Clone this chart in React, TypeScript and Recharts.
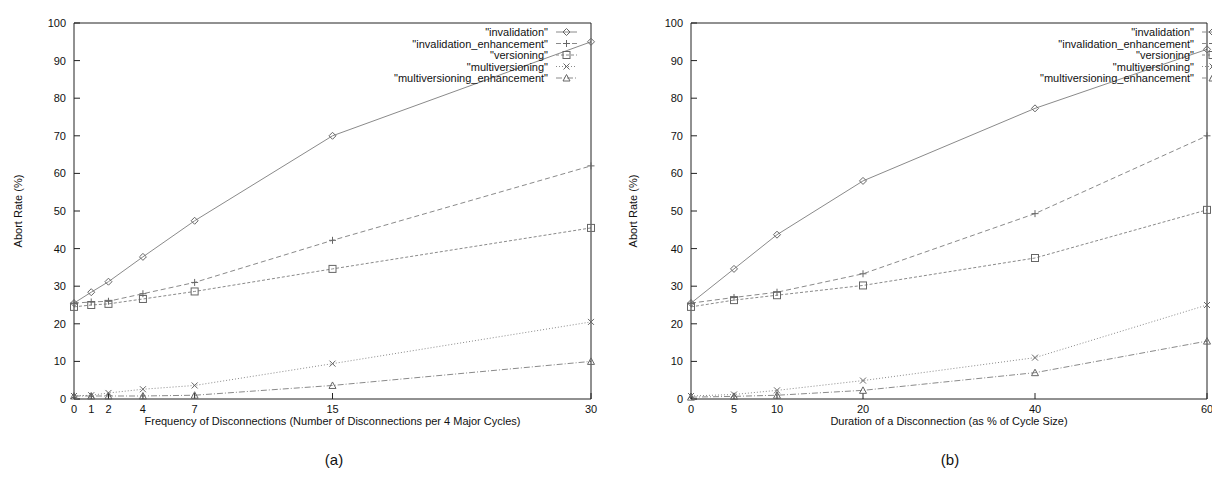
import React from "react";
import { LineChart, Line, XAxis, YAxis } from "recharts";

const SERIES_NAMES = [
  "\"invalidation\"",
  "\"invalidation_enhancement\"",
  "\"versioning\"",
  "\"multiversioning\"",
  "\"multiversioning_enhancement\"",
];

// (a) frequency of disconnections
const FREQ = [0, 1, 2, 4, 7, 15, 30];
const FREQ_INVALIDATION = [25.5, 28.4, 31.2, 37.8, 47.4, 70, 95];
const FREQ_INVALIDATION_ENH = [25.5, 25.8, 26, 28, 31, 42.2, 62];
const FREQ_VERSIONING = [24.5, 25, 25.3, 26.6, 28.6, 34.6, 45.5];
const FREQ_MULTIVERSIONING = [0.8, 1, 1.6, 2.6, 3.6, 9.4, 20.5];
const FREQ_MULTIVERSIONING_ENH = [0.8, 0.8, 0.8, 0.8, 1, 3.6, 10];

// (b) duration of a disconnection
const DUR = [0, 5, 10, 20, 40, 60];
const DUR_INVALIDATION = [25.5, 34.6, 43.7, 58, 77.3, 93];
const DUR_INVALIDATION_ENH = [25.5, 27, 28.4, 33.3, 49.3, 70];
const DUR_VERSIONING = [24.5, 26.3, 27.6, 30.2, 37.5, 50.3];
const DUR_MULTIVERSIONING = [0.8, 1.2, 2.3, 4.9, 11, 25];
const DUR_MULTIVERSIONING_ENH = [0.5, 0.7, 1, 2.3, 7, 15.4];

const Y_TICKS = [0, 10, 20, 30, 40, 50, 60, 70, 80, 90, 100];

const KEYS = ["inv", "invEnh", "vers", "multi", "multiEnh"];
const SHAPES = ["diamond", "plus", "square", "cross", "triangle"];
const DASHES = ["", "5 3", "3 2", "1 2", "6 2 1 2"];
const LINE_COLOR = "#8a8a8a";
const MARK_COLOR = "#666";
const FONT = "'Liberation Sans', Arial, Helvetica, sans-serif";

function Marker({ cx, cy, shape }: { cx: number; cy: number; shape: string }) {
  if (cx == null || cy == null) return null;
  const s = 3.5;
  const common = { fill: "none", stroke: MARK_COLOR, strokeWidth: 1 };
  switch (shape) {
    case "diamond":
      return <path d={`M${cx},${cy - s}L${cx + s},${cy}L${cx},${cy + s}L${cx - s},${cy}Z`} {...common} />;
    case "plus":
      return <path d={`M${cx - s},${cy}H${cx + s}M${cx},${cy - s}V${cy + s}`} {...common} />;
    case "square":
      return <rect x={cx - s} y={cy - s} width={s * 2} height={s * 2} {...common} />;
    case "cross":
      return <path d={`M${cx - 3},${cy - 3}L${cx + 3},${cy + 3}M${cx - 3},${cy + 3}L${cx + 3},${cy - 3}`} {...common} />;
    default:
      return <path d={`M${cx},${cy - s}L${cx + s},${cy + 3}L${cx - s},${cy + 3}Z`} {...common} />;
  }
}

const makeDot = (shape: string) => (p: any) => (
  <Marker key={`${shape}-${p.index}`} cx={p.cx} cy={p.cy} shape={shape} />
);

function buildRows(xs: number[], cols: number[][]) {
  return xs.map((x, i) => {
    const row: Record<string, number> = { x };
    KEYS.forEach((k, j) => (row[k] = cols[j][i]));
    return row;
  });
}

function LegendBox({ textRight, top }: { textRight: number; top: number }) {
  return (
    <svg
      width={620}
      height={120}
      style={{ position: "absolute", left: 0, top: 0, pointerEvents: "none", overflow: "visible" }}
    >
      {SERIES_NAMES.map((name, i) => {
        const y = top + i * 11.5;
        const x1 = textRight + 8;
        const x2 = x1 + 21;
        return (
          <g key={name}>
            <text
              x={textRight}
              y={y}
              textAnchor="end"
              dominantBaseline="central"
              fontSize={11}
              fontFamily={FONT}
              fill="#111"
            >
              {name}
            </text>
            <line x1={x1} x2={x2} y1={y} y2={y} stroke={LINE_COLOR} strokeDasharray={DASHES[i]} />
            <Marker cx={(x1 + x2) / 2} cy={y} shape={SHAPES[i]} />
          </g>
        );
      })}
    </svg>
  );
}

const tickStyle = { fontSize: 11, fill: "#111", fontFamily: FONT };

function Panel({
  width,
  xs,
  cols,
  xLabel,
  caption,
  captionX,
  yAxisWidth,
  marginRight,
  labelOffset,
  legendRight,
}: {
  width: number;
  xs: number[];
  cols: number[][];
  xLabel: string;
  caption: string;
  captionX: number;
  yAxisWidth: number;
  marginRight: number;
  labelOffset: number;
  legendRight: number;
}) {
  const data = buildRows(xs, cols);
  const xMax = xs[xs.length - 1];
  return (
    <div style={{ position: "relative", width, height: 468, flex: "none" }}>
      <LineChart
        width={width}
        height={431}
        data={data}
        margin={{ top: 0, right: marginRight, left: 0, bottom: 0 }}
      >
        <XAxis
          dataKey="x"
          type="number"
          domain={[0, xMax]}
          ticks={xs}
          interval={0}
          height={40}
          stroke="#222"
          tickSize={-6}
          tickMargin={12}
          tick={tickStyle}
          label={{ value: xLabel, position: "insideTop", offset: 18, style: { ...tickStyle } }}
        />
        <XAxis
          xAxisId="top"
          orientation="top"
          type="number"
          domain={[0, xMax]}
          ticks={xs}
          interval={0}
          height={15}
          stroke="#222"
          tickSize={-6}
          tick={false}
        />
        <YAxis
          type="number"
          domain={[0, 100]}
          ticks={Y_TICKS}
          interval={0}
          width={yAxisWidth}
          stroke="#222"
          tickSize={-6}
          tickMargin={14}
          tick={tickStyle}
          label={{
            value: "Abort Rate (%)",
            angle: -90,
            position: "insideLeft",
            offset: labelOffset,
            style: { ...tickStyle, textAnchor: "middle" },
          }}
        />
        <YAxis
          yAxisId="right"
          orientation="right"
          type="number"
          domain={[0, 100]}
          ticks={Y_TICKS}
          interval={0}
          width={8}
          stroke="#222"
          tickSize={-6}
          tick={false}
        />
        {KEYS.map((k, i) => (
          <Line
            key={k}
            dataKey={k}
            type="linear"
            stroke={LINE_COLOR}
            strokeWidth={1}
            strokeDasharray={DASHES[i] || undefined}
            dot={makeDot(SHAPES[i])}
            activeDot={false}
            isAnimationActive={false}
          />
        ))}
      </LineChart>
      <LegendBox textRight={legendRight} top={24} />
      <div
        style={{
          position: "absolute",
          top: 443,
          left: captionX - 30,
          width: 60,
          textAlign: "center",
          fontFamily: FONT,
          fontSize: 15,
          color: "#111",
        }}
      >
        {caption}
      </div>
    </div>
  );
}

export default function App() {
  return (
    <div style={{ display: "flex", width: 1212, height: 468, overflow: "hidden", fontFamily: FONT }}>
      <Panel
        width={610}
        xs={FREQ}
        cols={[FREQ_INVALIDATION, FREQ_INVALIDATION_ENH, FREQ_VERSIONING, FREQ_MULTIVERSIONING, FREQ_MULTIVERSIONING_ENH]}
        xLabel="Frequency of Disconnections (Number of Disconnections per 4 Major Cycles)"
        caption="(a)"
        captionX={326}
        yAxisWidth={66}
        marginRight={19}
        labelOffset={10}
        legendRight={540}
      />
      <Panel
        width={600}
        xs={DUR}
        cols={[DUR_INVALIDATION, DUR_INVALIDATION_ENH, DUR_VERSIONING, DUR_MULTIVERSIONING, DUR_MULTIVERSIONING_ENH]}
        xLabel="Duration of a Disconnection (as % of Cycle Size)"
        caption="(b)"
        captionX={332}
        yAxisWidth={73}
        marginRight={3}
        labelOffset={15}
        legendRight={576}
      />
    </div>
  );
}
